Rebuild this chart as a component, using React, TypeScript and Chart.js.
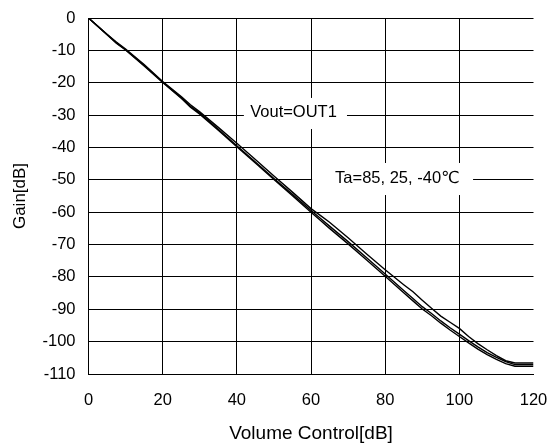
import React, { useEffect, useRef } from "react";
import { Chart, registerables } from "chart.js";

Chart.register(...registerables);

// ---- data ----
const volume = [0, 5, 7.5, 10, 15, 20, 25, 27.5, 30, 35, 40, 45, 50, 55, 60, 62.5, 65, 70, 75, 80, 85, 87.5, 90, 92.5, 95, 97.5, 100, 102.5, 105, 107.5, 110, 112.5, 115, 117.5, 120];
const gain85 = [0, -5.0, -7.4, -9.6, -14.4, -19.6, -24.3, -26.8, -29.0, -33.8, -38.7, -43.7, -48.8, -53.8, -58.9, -61.0, -63.1, -67.9, -72.9, -77.8, -82.4, -84.6, -87.2, -89.7, -92.1, -94.0, -95.9, -98.4, -100.6, -102.5, -104.3, -105.9, -106.6, -106.6, -106.6];
const gain25 = [0, -5.1, -7.6, -9.8, -14.6, -19.8, -24.6, -27.3, -29.4, -34.4, -39.5, -44.5, -49.6, -54.5, -59.5, -61.9, -64.3, -69.1, -74.1, -79.1, -84.2, -86.7, -89.2, -91.3, -93.6, -95.7, -97.7, -99.7, -101.6, -103.4, -104.9, -106.2, -107.1, -107.1, -107.1];
const gainM40 = [0, -5.2, -7.8, -9.9, -14.8, -19.9, -24.8, -27.6, -29.7, -34.7, -39.8, -44.8, -49.9, -54.9, -60.0, -62.5, -65.0, -69.8, -74.8, -79.8, -84.9, -87.4, -89.9, -92.0, -94.3, -96.4, -98.4, -100.4, -102.3, -104.0, -105.5, -106.8, -107.6, -107.6, -107.6];
const seriesLabels = ["85℃", "25℃", "-40℃"];
const xRange = [0, 120];
const yRange = [-110, 0];
const xStep = 20;
const yStep = 10;
const xTitle = "Volume Control[dB]";
const yTitle = "Gain[dB]";
const noteVout = "Vout=OUT1";
const noteTa = "Ta=85, 25, -40℃";

const FONT = "'Liberation Sans', Arial, 'DejaVu Sans', sans-serif";

const annotationPlugin = {
  id: "notes",
  beforeDatasetsDraw(chart: any) {
    const { ctx, scales } = chart;
    const x = scales.x;
    const y = scales.y;
    const boxes = [
      { text: noteVout, x0: 41.9, x1: 69.7, y0: -24.7, y1: -34.3, tx: 43.6, ty: -30.6 },
      { text: noteTa, x0: 60.3, x1: 103.7, y0: -44.8, y1: -54.7, tx: 66.5, ty: -51.0 },
    ];
    ctx.save();
    for (const b of boxes) {
      const l = x.getPixelForValue(b.x0);
      const r = x.getPixelForValue(b.x1);
      const t = y.getPixelForValue(b.y0);
      const bt = y.getPixelForValue(b.y1);
      ctx.fillStyle = "#ffffff";
      ctx.fillRect(l, t, r - l, bt - t);
      ctx.fillStyle = "#000000";
      ctx.font = `16.5px ${FONT}`;
      ctx.textAlign = "left";
      ctx.textBaseline = "alphabetic";
      ctx.fillText(b.text, x.getPixelForValue(b.tx), y.getPixelForValue(b.ty));
    }
    ctx.restore();
  },
};

export default function App() {
  const ref = useRef<HTMLCanvasElement | null>(null);

  useEffect(() => {
    if (!ref.current) return;
    const mk = (vals: number[], label: string) => ({
      label,
      data: volume.map((v, i) => ({ x: v, y: vals[i] })),
      borderColor: "#000000",
      backgroundColor: "#000000",
      borderWidth: 1.4,
      pointRadius: 0,
      tension: 0,
      fill: false,
    });
    const chart = new Chart(ref.current, {
      type: "line",
      data: {
        datasets: [mk(gain85, seriesLabels[0]), mk(gain25, seriesLabels[1]), mk(gainM40, seriesLabels[2])],
      },
      options: {
        animation: false,
        responsive: false,
        devicePixelRatio: 1,
        layout: { padding: { left: 0, right: 15.5, top: 18, bottom: 0 } },
        plugins: { legend: { display: false }, tooltip: { enabled: false } },
        scales: {
          x: {
            type: "linear",
            min: xRange[0],
            max: xRange[1],
            afterFit: (s: any) => {
              s.height = 69;
              s.paddingLeft = 0;
              s.paddingRight = 0;
            },
            ticks: {
              stepSize: xStep,
              padding: 17,
              color: "#000",
              font: { size: 16.5, family: FONT },
              maxRotation: 0,
            },
            grid: {
              drawTicks: false,
              lineWidth: 1,
              color: (c: any) => (c.tick && c.tick.value === xRange[1] ? "rgba(0,0,0,0)" : "#000"),
            },
            border: { display: true, color: "#000", width: 1 },
            title: {
              display: true,
              text: xTitle,
              color: "#000",
              font: { size: 19, family: FONT, lineHeight: 1 },
              padding: { top: 0, bottom: 0 },
            },
          },
          y: {
            type: "linear",
            min: yRange[0],
            max: yRange[1],
            afterFit: (s: any) => {
              s.width = 88.5;
              s.paddingTop = 0;
              s.paddingBottom = 0;
            },
            ticks: {
              stepSize: yStep,
              padding: 13,
              color: "#000",
              font: { size: 16.5, family: FONT },
            },
            grid: { drawTicks: false, lineWidth: 1, color: "#000" },
            border: { display: true, color: "#000", width: 1 },
            title: {
              display: true,
              text: yTitle,
              color: "#000",
              font: { size: 17, family: FONT },
              padding: { top: 10, bottom: 0 },
            },
          },
        },
      },
      plugins: [annotationPlugin],
    } as any);
    return () => chart.destroy();
  }, []);

  return (
    <div style={{ position: "absolute", left: 0, top: 0, width: 549, height: 443, background: "#fff" }}>
      <canvas ref={ref} width={549} height={443} />
    </div>
  );
}
